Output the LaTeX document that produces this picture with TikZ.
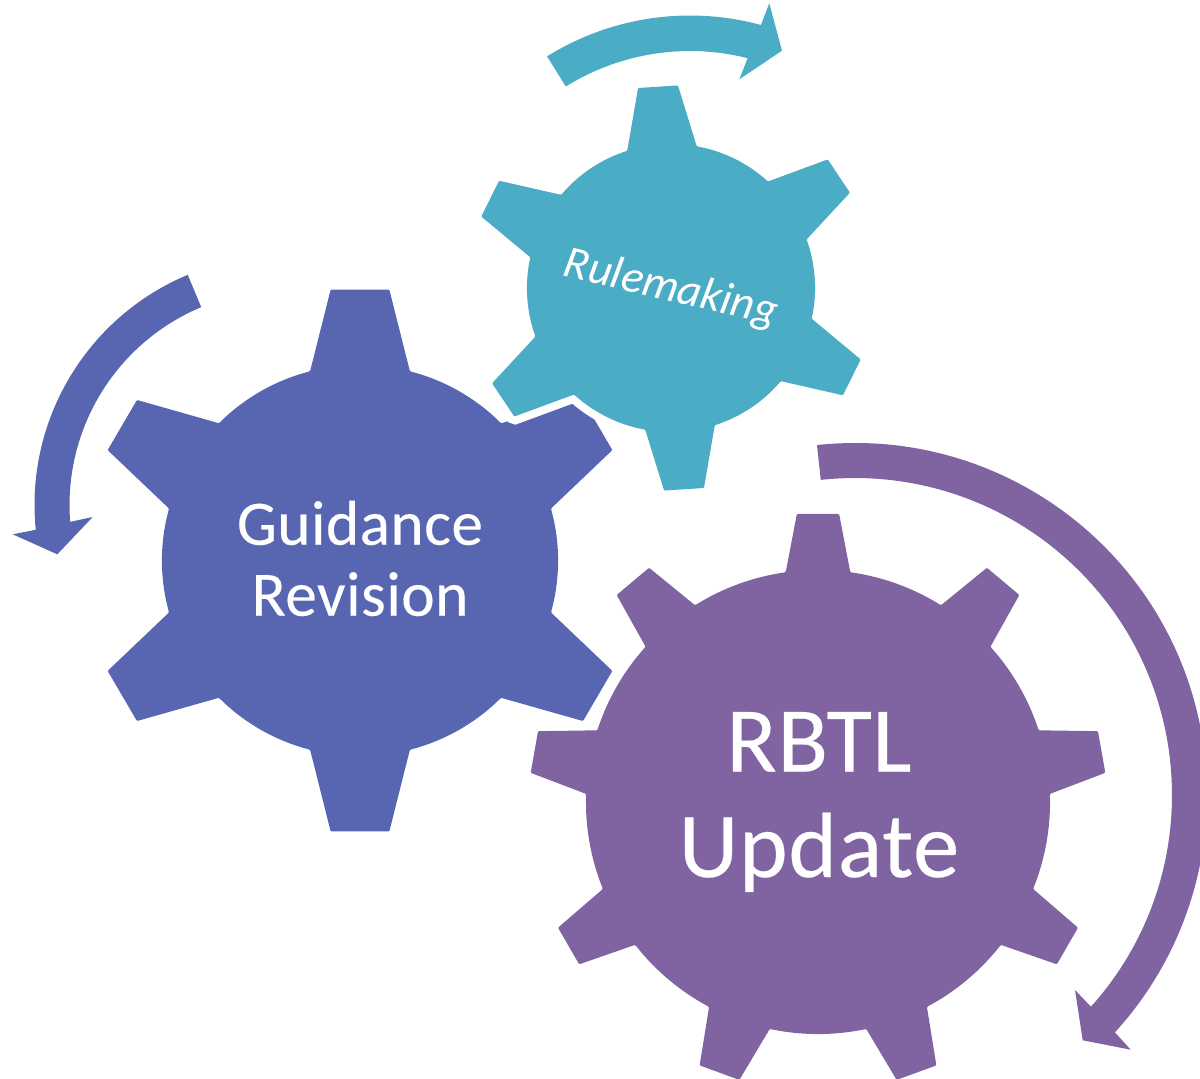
\documentclass[tikz,border=0pt]{standalone}
\usepackage{fontspec}
\setmainfont{Carlito}
\newfontfamily\gearfont{Carlito}[FakeBold=0.25, LetterSpace=0.8]
\newfontfamily\gearital{Carlito Italic}
\definecolor{gblue}{HTML}{5866B2}
\definecolor{gteal}{HTML}{4BACC6}
\definecolor{gpurple}{HTML}{8064A2}
% #1 options, #2 first tooth angle, #3 tooth count, #4 last index, #5 body radius, #6 base half angle, #7 tip radius, #8 tip half angle
\newcommand{\gearshape}[8]{%
  \path[#1, rounded corners=1.5pt] (#2-#6:#5)
    \foreach \k [evaluate=\k as \t using #2+\k*360/#3] in {0,...,#4} {
      -- (\t-#8:#7) -- (\t+#8:#7) -- (\t+#6:#5)
      arc[start angle=\t+#6, end angle=\t+360/#3-#6, radius=#5]
    } -- cycle;}
% #1 colour, #2 start angle, #3 outer end angle, #4 inner end angle, #5 outer R, #6 inner R, #7 head points
\newcommand{\bandarrow}[7]{%
  \fill[#1] (#2:#5) arc[start angle=#2, end angle=#3, radius=#5] #7
    -- (#4:#6) arc[start angle=#4, end angle=#2, radius=#6] -- cycle;}
\tikzset{geartext/.style={text=white, align=center, inner sep=0pt}}
\begin{document}
\begin{tikzpicture}[x=0.05cm,y=-0.05cm]
\useasboundingbox (0,0) rectangle (1200,1078);
\clip (0,0) rectangle (1200,1078);
% Guidance gear
\begin{scope}[shift={(360,560.5)}, xscale=1.013]
  \gearshape{fill=gblue}{-90}{6}{5}{195.5}{14.6}{272.5}{6.1}
\end{scope}
% Rulemaking gear with white halo
\begin{scope}[shift={(671,288)}]
  \gearshape{fill=gteal, preaction={draw=white, line width=0.8cm}}{-93.7}{6}{5}{144}{14}{202.7}{5.66}
\end{scope}
% RBTL gear
\begin{scope}[shift={(818,802)}]
  \gearshape{fill=gpurple}{-90}{9}{8}{232}{8}{288.8}{4.2}
\end{scope}
% arrows
\begin{scope}[shift={(690,286)}]
  \bandarrow{gteal}{-121.9}{-74.8}{-75.8}{270.5}{235}{-- (79.3,-282.7) -- (92,-235.3) -- (49.3,-206.7)}
\end{scope}
\begin{scope}[shift={(284,505)}]
  \bandarrow{gblue}{-112.7}{-185.7}{-184.5}{249.5}{214.5}{-- (-271.3,29.3) -- (-226.7,49.3) -- (-191.3,12)}
\end{scope}
\begin{scope}[shift={(855,795)}]
  \bandarrow{gpurple}{-96.2}{42.4}{41.9}{352}{317}{-- (275.7,254.7) -- (227.7,245.3) -- (220,195)}
\end{scope}
% labels
\node[geartext, font=\gearfont\fontsize{90}{101}\selectfont] (guidance) at (360,558.5) {Guidance\\Revision};
\node[geartext, font=\gearital\fontsize{65}{78}\selectfont, rotate=-13.2] (rule) at (671,289) {Rulemaking};
\node[geartext, font=\gearfont\fontsize{132}{150}\selectfont] (rbtl) at (819,802) {RBTL\\Update};
\end{tikzpicture}
\end{document}
